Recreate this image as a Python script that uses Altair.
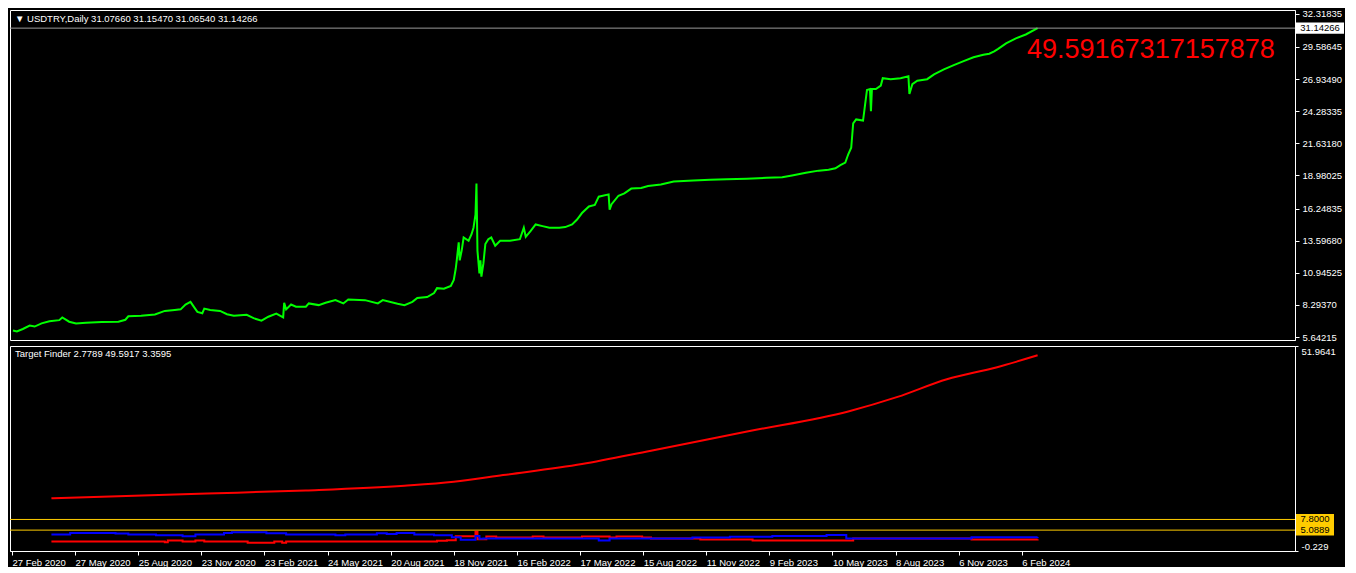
import altair as alt
import pandas as pd

# ---------------- data ----------------
header_text = "\u25bc USDTRY,Daily  31.07660 31.15470 31.06540 31.14266"
indicator_text = "Target Finder 2.7789 49.5917 3.3595"
big_label = "49.59167317157878"

date_labels = ["27 Feb 2020", "27 May 2020", "25 Aug 2020", "23 Nov 2020", "23 Feb 2021",
               "24 May 2021", "20 Aug 2021", "18 Nov 2021", "16 Feb 2022", "17 May 2022",
               "15 Aug 2022", "11 Nov 2022", "9 Feb 2023", "10 May 2023", "8 Aug 2023",
               "6 Nov 2023", "6 Feb 2024"]
date_tick_bars = [2, 66, 130, 194, 258, 322, 386, 450, 514, 578, 642, 706, 770, 834, 898, 962, 1026]

price_ticks = [32.31835, 29.58645, 26.93490, 24.28335, 21.63180, 18.98025, 16.24835,
               13.59680, 10.94525, 8.29370, 5.64215]
bid_price = 31.14266

price_bar = [3, 7, 13, 20, 25, 32, 40, 50, 53, 60, 67, 77, 93, 110, 117, 120, 133, 147, 157, 167,
             173, 178, 183, 187, 190, 195, 197, 203, 213, 220, 227, 240, 247, 255, 262, 270, 277,
             278, 280, 285, 290, 300, 303, 313, 320, 330, 338, 343, 360, 373, 378, 393, 400, 408,
             413, 423, 430, 433, 440, 447, 450, 452, 453, 455, 456, 458, 460, 465, 468, 470, 472,
             473, 474, 476, 477, 478, 480, 482, 485, 488, 492, 497, 507, 517, 521, 523, 528, 533,
             540, 547, 557, 563, 570, 575, 580, 587, 593, 597, 607, 608, 610, 617, 623, 630, 640,
             647, 660, 673, 693, 710, 727, 747, 767, 783, 793, 807, 820, 830, 837, 842, 847, 850,
             853, 855, 858, 865, 867, 869, 872, 873, 874, 878, 883, 885, 893, 903, 911, 912, 915,
             920, 930, 937, 947, 957, 967, 977, 987, 993, 998, 1002, 1010, 1020, 1030, 1042]
price_close = [6.18, 6.10, 6.31, 6.59, 6.51, 6.77, 6.94, 7.04, 7.26, 6.91, 6.77, 6.83, 6.88, 6.91,
               7.07, 7.36, 7.40, 7.50, 7.80, 7.88, 7.93, 8.33, 8.55, 8.07, 7.72, 7.61, 7.99, 7.88,
               7.80, 7.53, 7.40, 7.48, 7.20, 6.99, 7.32, 7.58, 7.26, 8.47, 7.93, 8.33, 8.15, 8.15,
               8.42, 8.28, 8.47, 8.69, 8.42, 8.74, 8.69, 8.42, 8.69, 8.39, 8.28, 8.55, 8.87, 8.95,
               9.28, 9.68, 9.64, 9.87, 10.36, 11.30, 11.97, 13.46, 11.97, 12.78, 13.86, 13.59,
               14.13, 14.67, 15.75, 18.31, 12.78, 10.90, 11.97, 10.63, 11.70, 13.32, 13.72, 13.86,
               13.18, 13.59, 13.59, 13.72, 14.67, 13.92, 14.40, 14.94, 14.80, 14.67, 14.67, 14.72,
               14.94, 15.34, 15.88, 16.42, 16.55, 17.23, 17.42, 16.15, 16.61, 17.31, 17.50, 17.90,
               17.95, 18.11, 18.23, 18.49, 18.57, 18.63, 18.66, 18.71, 18.79, 18.84, 18.98, 19.20,
               19.38, 19.46, 19.57, 19.84, 20.05, 20.73, 21.27, 23.29, 23.61, 23.51, 24.78, 26.04,
               26.12, 24.29, 26.12, 26.12, 26.40, 27.01, 26.93, 27.01, 27.17, 25.71, 26.52, 26.80,
               26.93, 27.33, 27.74, 28.09, 28.42, 28.74, 28.95, 29.03, 29.22, 29.43, 29.89, 30.30,
               30.62, 31.14]

target_bar = [42, 200, 300, 400, 450, 500, 580, 650, 750, 850, 900, 950, 1000, 1042]
target_val = [13.2, 14.4, 15.2, 16.4, 17.4, 19.1, 21.9, 25.3, 30.3, 35.3, 39.0, 43.5, 46.5, 49.59]

blue_bar = [42, 61, 107, 120, 148, 175, 188, 217, 225, 260, 280, 330, 340, 372, 382, 392, 410,
            430, 448, 457, 472, 476, 480, 597, 608, 692, 730, 773, 828, 848, 975, 1042]
blue_val = [3.95, 4.37, 4.20, 3.95, 3.78, 3.53, 3.95, 4.37, 4.53, 4.28, 3.95, 3.78, 3.95, 4.28,
            4.12, 4.37, 3.95, 3.78, 3.28, 2.62, 3.62, 2.87, 2.95, 2.45, 2.95, 3.20, 3.37, 3.62,
            3.87, 2.95, 3.28, 3.36]

red_bar = [42, 157, 160, 175, 188, 197, 241, 268, 276, 280, 433, 443, 452, 471, 472, 474, 483,
           493, 530, 541, 580, 608, 615, 641, 650, 700, 753, 855, 975, 1042]
red_val = [2.20, 2.03, 2.45, 2.20, 2.45, 2.20, 1.87, 2.20, 1.87, 2.20, 2.37, 2.53, 3.53, 3.53,
           4.70, 2.78, 3.45, 3.20, 3.45, 3.20, 3.45, 3.20, 3.45, 3.20, 2.95, 2.70, 2.45, 2.95,
           2.70, 2.78]

level_vals = [7.8, 5.0889]
level_texts = ["7.8000", "5.0889"]
ind_ticks = [51.9641, -0.229]
ind_tick_texts = ["51.9641", "-0.229"]

# ---------------- layout / style ----------------
W, H1, H2 = 1285, 330, 205
XDOM = [0, 1303]
FONT = "Liberation Sans"
FS = 9.5
WHITE = "#ffffff"
GOLD = "#ffcc00"

xs = alt.Scale(domain=XDOM, nice=False, zero=False)
ys_top = alt.Scale(domain=[5.40, 32.64], nice=False, zero=False)
ys_bot = alt.Scale(domain=[ind_ticks[1], ind_ticks[0]], nice=False, zero=False)

top_axis = alt.Axis(orient="right", values=price_ticks, format=".5f", title=None, grid=False,
                    labelColor=WHITE, domainColor=WHITE, tickColor=WHITE, tickSize=4,
                    labelFont=FONT, labelFontSize=FS, labelPadding=3, labelFlush=False,
                    labelOverlap=False, labelBound=False)
label_expr = "[" + ",".join(f"'{s}'" for s in date_labels) + "][round((datum.value - 2) / 64)]"
x_axis = alt.Axis(orient="bottom", values=date_tick_bars, labelExpr=label_expr, title=None,
                  grid=False, labelColor=WHITE, domainColor=WHITE, tickColor=WHITE, tickSize=4,
                  labelFont=FONT, labelFontSize=FS, labelAlign="left", labelPadding=2,
                  labelOverlap=False, labelFlush=False, labelBound=False)
ind_expr = f"datum.value > 25 ? '{ind_tick_texts[0]}' : '{ind_tick_texts[1]}'"
bot_axis = alt.Axis(orient="right", values=ind_ticks, labelExpr=ind_expr, title=None,
                    grid=False, labelColor=WHITE, domainColor=WHITE, tickColor=WHITE, tickSize=3,
                    labelFont=FONT, labelFontSize=FS, labelPadding=3, labelFlush=True,
                    labelOverlap=False, labelBound=False)

def ytop(field="v"):
    return alt.Y(f"{field}:Q", scale=ys_top, axis=top_axis)

def ybot(field="v"):
    return alt.Y(f"{field}:Q", scale=ys_bot, axis=bot_axis)

# ---------------- top panel ----------------
price_df = pd.DataFrame({"bar": price_bar, "v": price_close})
price_line = alt.Chart(price_df).mark_line(color="#00ff00", strokeWidth=2).encode(
    x=alt.X("bar:Q", scale=xs, axis=None), y=ytop())

bid_df = pd.DataFrame({"v": [bid_price], "t": [f"{bid_price:.5f}"]})
bid_rule = alt.Chart(bid_df).mark_rule(color="#9a9a9a", strokeWidth=1).encode(y=ytop())
bid_box = alt.Chart(bid_df).mark_point(
    shape="M-1,-0.23H1V0.23H-1Z", filled=True, opacity=1, color=WHITE, size=48 * 48
).encode(x=alt.value(W + 25), y=ytop())
bid_txt = alt.Chart(bid_df).mark_text(color="#000000", font=FONT, fontSize=FS, align="center",
                                      baseline="middle").encode(
    x=alt.value(W + 25), y=ytop(), text="t:N")

header = alt.Chart(pd.DataFrame({"t": [header_text]})).mark_text(
    color=WHITE, font=FONT, fontSize=FS, align="left", baseline="middle"
).encode(x=alt.value(5), y=alt.value(9), text="t:N")

big = alt.Chart(pd.DataFrame({"t": [big_label]})).mark_text(
    color="#ff0000", font=FONT, fontSize=27, align="left", baseline="middle"
).encode(x=alt.value(1017), y=alt.value(40), text="t:N")

top = alt.layer(price_line, bid_rule, bid_box, bid_txt, header, big).properties(width=W, height=H1)

# ---------------- lower panel ----------------
target_df = pd.DataFrame({"bar": target_bar, "v": target_val})
target_line = alt.Chart(target_df).mark_line(color="#ff0000", strokeWidth=2, interpolate="monotone").encode(
    x=alt.X("bar:Q", scale=xs, axis=x_axis), y=ybot())

lvl_df = pd.DataFrame({"v": level_vals, "t": level_texts})
lvl_rule = alt.Chart(lvl_df).mark_rule(color=GOLD, strokeWidth=1).encode(y=ybot())
lvl_box = alt.Chart(lvl_df).mark_point(
    shape="M-1,-0.29H1V0.29H-1Z", filled=True, opacity=1, color=GOLD, size=38 * 38
).encode(x=alt.value(W + 20), y=ybot())
lvl_txt = alt.Chart(lvl_df).mark_text(color="#000000", font=FONT, fontSize=FS, align="center",
                                      baseline="middle").encode(
    x=alt.value(W + 20), y=ybot(), text="t:N")

blue_df = pd.DataFrame({"bar": blue_bar, "v": blue_val})
blue_line = alt.Chart(blue_df).mark_line(color="#0000ff", strokeWidth=2, interpolate="step-after").encode(
    x=alt.X("bar:Q", scale=xs, axis=x_axis), y=ybot())
red_df = pd.DataFrame({"bar": red_bar, "v": red_val})
red_line = alt.Chart(red_df).mark_line(color="#ff0000", strokeWidth=2, interpolate="step-after").encode(
    x=alt.X("bar:Q", scale=xs, axis=x_axis), y=ybot())

ind_header = alt.Chart(pd.DataFrame({"t": [indicator_text]})).mark_text(
    color=WHITE, font=FONT, fontSize=FS, align="left", baseline="middle"
).encode(x=alt.value(5), y=alt.value(8), text="t:N")

bottom = alt.layer(target_line, lvl_rule, red_line, blue_line, lvl_box, lvl_txt, ind_header).properties(
    width=W, height=H2)

chart = alt.vconcat(top, bottom, spacing=2).properties(
    background="#000000", padding=0
).configure_view(stroke=WHITE, strokeWidth=1).configure_axis(labelOverlap=False)

chart.save("out.html", embed_options={"renderer": "svg", "actions": False})
